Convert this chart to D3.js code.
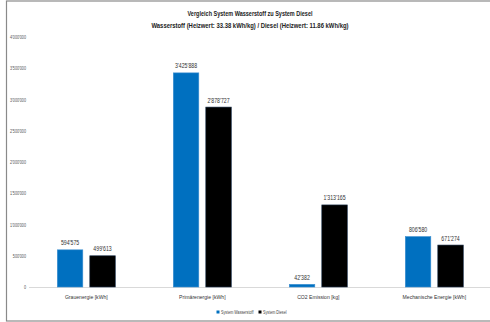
<!DOCTYPE html>
<html><head><meta charset="utf-8">
<script src="https://cdn.jsdelivr.net/npm/d3@7"></script>
<style>html,body{margin:0;padding:0;background:#fff;overflow:hidden}</style>
</head><body>
<svg id="c" width="490" height="322"></svg>
<script>
const categories = ["Grauenergie [kWh]", "Primärenergie [kWh]", "CO2 Emission [kg]", "Mechanische Energie [kWh]"];
const seriesNames = ["System Wasserstoff", "System Diesel"];
const wasserstoff = [594575, 3425888, 42382, 806580];
const diesel = [499613, 2878727, 1313165, 671274];
const yTicks = [0, 500000, 1000000, 1500000, 2000000, 2500000, 3000000, 3500000, 4000000];
const titleLines = ["Vergleich System Wasserstoff zu System Diesel", "Wasserstoff (Heizwert: 33.38 kWh/kg)  / Diesel  (Heizwert: 11.86 kWh/kg)"];
const colors = ["#0070C0", "#000000"];

const FONT = "'Liberation Sans Narrow', 'Liberation Sans', Arial, sans-serif";
const svg = d3.select("#c");
const loc = d3.formatLocale({decimal: ".", thousands: "'", grouping: [3], currency: ["", ""]});
const fmt = loc.format(",d");

// condense text horizontally (reference uses a narrow font)
function squeeze(sel, f) {
  sel.each(function () {
    const w = this.getComputedTextLength();
    if (w > 0) d3.select(this).attr("textLength", w * f).attr("lengthAdjust", "spacingAndGlyphs");
  });
}

// frame
svg.append("rect").attr("x", 6.5).attr("y", 1).attr("width", 490).attr("height", 320)
  .attr("fill", "none").attr("stroke", "#8a8a8a").attr("stroke-width", 1.2);

const y = d3.scaleLinear().domain([0, 4000000]).range([287, 37]);
const x0 = d3.scaleBand().domain(categories).range([28.3, 492.3]).paddingInner(0.5).paddingOuter(0.25);
const x1 = d3.scaleBand().domain(seriesNames).range([0, x0.bandwidth()]).paddingInner(0.215);

// titles
const titleW = [125, 197];
titleLines.forEach((t, i) => {
  svg.append("text").attr("x", 250).attr("y", 15.5 + i * 12).attr("text-anchor", "middle")
    .attr("font-family", FONT).attr("font-weight", "bold").attr("font-size", 7.5)
    .attr("fill", "#222").attr("textLength", titleW[i]).attr("lengthAdjust", "spacingAndGlyphs").text(t);
});

// y axis labels
const yAxis = d3.axisLeft(y).tickValues(yTicks).tickFormat(fmt).tickSize(0).tickPadding(0);
const ga = svg.append("g").attr("transform", "translate(26,0)").call(yAxis);
ga.select(".domain").remove();
ga.selectAll("text").attr("font-family", FONT).attr("font-size", 4.8).attr("fill", "#555");
squeeze(ga.selectAll("text"), 0.78);

// baseline
svg.append("line").attr("x1", 29).attr("x2", 490).attr("y1", y(0) + 0.5).attr("y2", y(0) + 0.5)
  .attr("stroke", "#d9d9d9").attr("stroke-width", 1);

// bars
const data = categories.map((c, i) => ({cat: c, vals: [wasserstoff[i], diesel[i]]}));
const groups = svg.append("g").selectAll("g").data(data).join("g")
  .attr("transform", d => `translate(${x0(d.cat)},0)`);
groups.selectAll("rect").data(d => d.vals.map((v, k) => ({k, v}))).join("rect")
  .attr("x", d => x1(seriesNames[d.k])).attr("width", x1.bandwidth())
  .attr("y", d => y(d.v)).attr("height", d => y(0) - y(d.v))
  .attr("fill", d => colors[d.k])
  .attr("stroke", d => d.k === 0 ? "#3d8fd0" : "#1f3550").attr("stroke-width", 0.6);
const vl = groups.selectAll("text").data(d => d.vals.map((v, k) => ({k, v}))).join("text")
  .attr("x", d => x1(seriesNames[d.k]) + x1.bandwidth() / 2).attr("y", d => y(d.v) - 4.5)
  .attr("text-anchor", "middle").attr("font-family", FONT).attr("font-size", 6.5).attr("fill", "#333")
  .text(d => fmt(d.v));
squeeze(vl, 0.8);

// category labels
const xAxis = d3.axisBottom(x0).tickSize(0).tickPadding(0);
const gx = svg.append("g").attr("transform", "translate(0,295)").call(xAxis);
gx.select(".domain").remove();
gx.selectAll("text").attr("font-family", FONT).attr("font-size", 6).attr("fill", "#333");
squeeze(gx.selectAll("text"), 0.85);

// legend
const legX = [216.5, 258.5];
seriesNames.forEach((s, i) => {
  svg.append("rect").attr("x", legX[i]).attr("y", 310.5).attr("width", 3).attr("height", 3).attr("fill", colors[i]);
  const t = svg.append("text").attr("x", legX[i] + 4.5).attr("y", 313.8).attr("font-family", FONT)
    .attr("font-size", 4.6).attr("fill", "#444").text(s);
  squeeze(t, 0.8);
});
</script>
</body></html>
